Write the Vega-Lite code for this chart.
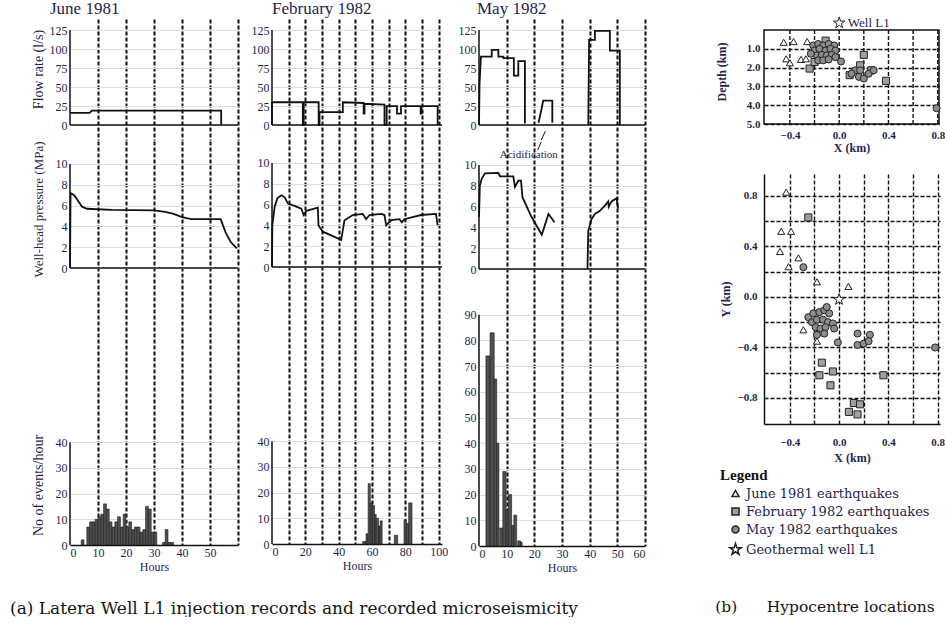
{
  "$schema": "https://vega.github.io/schema/vega-lite/v6.json",
  "background": "white",
  "padding": {"left": 10, "top": 0, "right": 0, "bottom": 0},
  "config": {
    "view": {"stroke": null},
    "font": "Liberation Serif",
    "axis": {"labelFont": "Liberation Serif", "labelFontSize": 12, "labelColor": "#1f1f4d", "titleFont": "Liberation Serif", "titleFontSize": 14, "titleFontWeight": "normal", "titleColor": "#1f1f4d", "ticks": false, "labelPadding": 3, "domainColor": "#111", "domainWidth": 1.5, "tickCount": 50},
    "title": {"font": "Liberation Serif", "fontWeight": "normal", "color": "#1f1f4d"}
  },
  "datasets": {
    "junFlow": [{"t":0,"v":16},{"t":7,"v":16},{"t":7.8,"v":19},{"t":54,"v":19},{"t":54,"v":0}],
    "junP": [{"t":0,"v":0},{"t":0.2,"v":7.2},{"t":1.5,"v":7.0},{"t":2.5,"v":6.6},{"t":4.3,"v":5.9},{"t":6.1,"v":5.7},{"t":15,"v":5.6},{"t":30,"v":5.55},{"t":34,"v":5.4},{"t":37,"v":5.2},{"t":40,"v":4.9},{"t":43.3,"v":4.7},{"t":53.8,"v":4.7},{"t":55.6,"v":3.4},{"t":57.4,"v":2.5},{"t":59.6,"v":1.9}],
    "junHist": [{"h0":4,"h1":5,"n":2},{"h0":6,"h1":7,"n":7},{"h0":7,"h1":8,"n":9},{"h0":8,"h1":9,"n":9},{"h0":9,"h1":10,"n":10},{"h0":10,"h1":11,"n":11},{"h0":11,"h1":12,"n":12},{"h0":12,"h1":13,"n":16},{"h0":13,"h1":14,"n":14},{"h0":14,"h1":15,"n":9},{"h0":15,"h1":16,"n":7},{"h0":16,"h1":17,"n":9},{"h0":17,"h1":18,"n":11},{"h0":18,"h1":19,"n":7},{"h0":19,"h1":20,"n":12},{"h0":20,"h1":21,"n":7},{"h0":21,"h1":22,"n":9},{"h0":22,"h1":23,"n":6},{"h0":23,"h1":24,"n":7},{"h0":24,"h1":25,"n":7},{"h0":25,"h1":26,"n":5},{"h0":26,"h1":27,"n":6},{"h0":27,"h1":28,"n":15},{"h0":28,"h1":29,"n":14},{"h0":29,"h1":30,"n":5},{"h0":30,"h1":31,"n":5},{"h0":33,"h1":34,"n":1},{"h0":34,"h1":35,"n":6},{"h0":35,"h1":36,"n":1},{"h0":36,"h1":37,"n":1}],
    "febFlow": [{"t":0,"v":0},{"t":0,"v":30},{"t":18.5,"v":30},{"t":18.5,"v":0},{"t":19,"v":0},{"t":19,"v":30},{"t":28,"v":30},{"t":28,"v":0},{"t":28.5,"v":0},{"t":28.5,"v":17},{"t":42.5,"v":17},{"t":42.5,"v":30},{"t":55,"v":29},{"t":55,"v":15},{"t":55.5,"v":15},{"t":55.5,"v":28},{"t":67.5,"v":27},{"t":67.5,"v":0},{"t":68.8,"v":0},{"t":68.8,"v":25},{"t":75,"v":25},{"t":75,"v":15},{"t":77.4,"v":15},{"t":77.4,"v":25},{"t":89.2,"v":25},{"t":89.2,"v":15},{"t":89.7,"v":15},{"t":89.7,"v":25},{"t":99.4,"v":25},{"t":99.4,"v":0}],
    "febP": [{"t":0,"v":0},{"t":0.2,"v":4},{"t":1.6,"v":5.8},{"t":3.2,"v":6.6},{"t":5.6,"v":6.9},{"t":7.6,"v":6.7},{"t":9.6,"v":6.1},{"t":14.6,"v":5.8},{"t":17.6,"v":5.6},{"t":19,"v":5.0},{"t":20.6,"v":5.4},{"t":27.5,"v":5.7},{"t":27.9,"v":4.0},{"t":30.5,"v":3.4},{"t":37.5,"v":2.9},{"t":41.5,"v":2.6},{"t":43.5,"v":4.5},{"t":48.5,"v":5.0},{"t":54.5,"v":5.1},{"t":56.5,"v":4.6},{"t":58.5,"v":5.0},{"t":65.5,"v":5.1},{"t":67.5,"v":5.0},{"t":68.5,"v":4.0},{"t":71.5,"v":4.5},{"t":76.5,"v":4.6},{"t":77.9,"v":4.3},{"t":79.4,"v":4.6},{"t":89.4,"v":5.0},{"t":98.4,"v":5.1},{"t":99.4,"v":4.0}],
    "febHist": [{"h0":54.4,"h1":56.4,"n":1},{"h0":56.4,"h1":57.7,"n":4},{"h0":57.7,"h1":59,"n":23.5},{"h0":59,"h1":60.2,"n":16},{"h0":60.2,"h1":61.5,"n":15},{"h0":61.5,"h1":62.5,"n":11.5},{"h0":62.5,"h1":63.9,"n":10},{"h0":63.9,"h1":64.9,"n":7},{"h0":64.9,"h1":66.1,"n":9},{"h0":73.4,"h1":75.4,"n":3.4},{"h0":79.2,"h1":80.6,"n":9.4},{"h0":80.6,"h1":82,"n":8},{"h0":82,"h1":84,"n":16}],
    "mayFlow": [{"t":0,"v":0,"seg":1},{"t":0.2,"v":55,"seg":1},{"t":0.7,"v":90,"seg":1},{"t":4.6,"v":90,"seg":1},{"t":4.6,"v":99,"seg":1},{"t":7,"v":99,"seg":1},{"t":7,"v":90,"seg":1},{"t":8.8,"v":90,"seg":1},{"t":8.8,"v":88,"seg":1},{"t":12.6,"v":88,"seg":1},{"t":12.6,"v":65,"seg":1},{"t":14.2,"v":65,"seg":1},{"t":14.2,"v":84,"seg":1},{"t":16.6,"v":84,"seg":1},{"t":16.6,"v":2,"seg":1},{"t":21.5,"v":3,"seg":2},{"t":22.3,"v":16,"seg":2},{"t":23.2,"v":32,"seg":2},{"t":26.5,"v":32,"seg":2},{"t":26.5,"v":3,"seg":2},{"t":39.5,"v":0,"seg":3},{"t":39.8,"v":112,"seg":3},{"t":41.9,"v":112,"seg":3},{"t":41.9,"v":124,"seg":3},{"t":47.3,"v":124,"seg":3},{"t":47.3,"v":98,"seg":3},{"t":50.9,"v":98,"seg":3},{"t":50.9,"v":0,"seg":3}],
    "mayP": [{"t":0,"v":5,"seg":1},{"t":0.3,"v":8,"seg":1},{"t":1,"v":8.7,"seg":1},{"t":2.2,"v":9.2,"seg":1},{"t":7,"v":9.25,"seg":1},{"t":7.6,"v":8.9,"seg":1},{"t":12.4,"v":8.9,"seg":1},{"t":13,"v":7.9,"seg":1},{"t":14.2,"v":8.5,"seg":1},{"t":15.2,"v":8.5,"seg":1},{"t":15.7,"v":6.9,"seg":1},{"t":19,"v":5.0,"seg":1},{"t":22.7,"v":3.3,"seg":1},{"t":25.1,"v":5.3,"seg":1},{"t":27.3,"v":4.5,"seg":1},{"t":39.2,"v":0,"seg":2},{"t":39.5,"v":3.7,"seg":2},{"t":40.7,"v":4.8,"seg":2},{"t":41.9,"v":5.3,"seg":2},{"t":43.7,"v":5.6,"seg":2},{"t":45.5,"v":6.1,"seg":2},{"t":46.7,"v":6.5,"seg":2},{"t":46.9,"v":6.0,"seg":2},{"t":47.9,"v":6.5,"seg":2},{"t":49.7,"v":6.8,"seg":2},{"t":50.3,"v":5.8,"seg":2}],
    "mayHist": [{"h0":2.5,"h1":4,"n":74},{"h0":4,"h1":5.5,"n":83},{"h0":5.5,"h1":6.4,"n":65},{"h0":6.4,"h1":7.2,"n":40},{"h0":7.5,"h1":8.6,"n":7},{"h0":8.6,"h1":9.8,"n":29},{"h0":9.8,"h1":10.6,"n":14},{"h0":10.6,"h1":11.8,"n":20},{"h0":11.8,"h1":12.6,"n":8},{"h0":12.6,"h1":13.6,"n":12},{"h0":14,"h1":15,"n":2},{"h0":15,"h1":15.6,"n":1.5}],
    "xz": [
      {"x":-0.45,"d":0.65,"set":"June 1981 earthquakes"},{"x":-0.37,"d":0.61,"set":"June 1981 earthquakes"},{"x":-0.26,"d":0.61,"set":"June 1981 earthquakes"},{"x":-0.43,"d":1.53,"set":"June 1981 earthquakes"},{"x":-0.40,"d":1.74,"set":"June 1981 earthquakes"},{"x":-0.31,"d":1.56,"set":"June 1981 earthquakes"},{"x":-0.27,"d":1.53,"set":"June 1981 earthquakes"},
      {"x":-0.11,"d":0.56,"set":"February 1982 earthquakes"},{"x":-0.24,"d":2.05,"set":"February 1982 earthquakes"},{"x":0.2,"d":1.32,"set":"February 1982 earthquakes"},{"x":0.17,"d":1.88,"set":"February 1982 earthquakes"},{"x":0.38,"d":2.7,"set":"February 1982 earthquakes"},{"x":0.085,"d":2.4,"set":"February 1982 earthquakes"},{"x":0.26,"d":2.14,"set":"February 1982 earthquakes"},{"x":-0.11,"d":1.53,"set":"February 1982 earthquakes"},{"x":-0.2,"d":1.7,"set":"February 1982 earthquakes"},
      {"x":-0.21,"d":0.82,"set":"May 1982 earthquakes"},{"x":-0.17,"d":0.74,"set":"May 1982 earthquakes"},{"x":-0.13,"d":0.82,"set":"May 1982 earthquakes"},{"x":-0.085,"d":0.74,"set":"May 1982 earthquakes"},{"x":-0.04,"d":0.82,"set":"May 1982 earthquakes"},{"x":-0.2,"d":1.09,"set":"May 1982 earthquakes"},{"x":-0.16,"d":1.0,"set":"May 1982 earthquakes"},{"x":-0.11,"d":1.09,"set":"May 1982 earthquakes"},{"x":-0.07,"d":1.0,"set":"May 1982 earthquakes"},{"x":-0.03,"d":1.09,"set":"May 1982 earthquakes"},{"x":-0.18,"d":1.35,"set":"May 1982 earthquakes"},{"x":-0.14,"d":1.32,"set":"May 1982 earthquakes"},{"x":-0.1,"d":1.35,"set":"May 1982 earthquakes"},{"x":-0.06,"d":1.32,"set":"May 1982 earthquakes"},{"x":-0.17,"d":1.61,"set":"May 1982 earthquakes"},{"x":-0.13,"d":1.61,"set":"May 1982 earthquakes"},{"x":-0.085,"d":1.56,"set":"May 1982 earthquakes"},{"x":-0.03,"d":1.44,"set":"May 1982 earthquakes"},{"x":-0.23,"d":1.26,"set":"May 1982 earthquakes"},{"x":0.015,"d":1.67,"set":"May 1982 earthquakes"},
      {"x":0.13,"d":2.14,"set":"May 1982 earthquakes"},{"x":0.16,"d":2.49,"set":"May 1982 earthquakes"},{"x":0.2,"d":2.58,"set":"May 1982 earthquakes"},{"x":0.24,"d":2.32,"set":"May 1982 earthquakes"},{"x":0.1,"d":2.32,"set":"May 1982 earthquakes"},{"x":0.28,"d":2.14,"set":"May 1982 earthquakes"},{"x":0.17,"d":2.14,"set":"May 1982 earthquakes"},{"x":0.79,"d":4.16,"set":"May 1982 earthquakes"},
      {"x":0.0,"d":-0.38,"set":"Geothermal well L1"}
    ],
    "xy": [
      {"x":-0.43,"y":0.83,"set":"June 1981 earthquakes"},{"x":-0.47,"y":0.52,"set":"June 1981 earthquakes"},{"x":-0.39,"y":0.52,"set":"June 1981 earthquakes"},{"x":-0.48,"y":0.36,"set":"June 1981 earthquakes"},{"x":-0.33,"y":0.31,"set":"June 1981 earthquakes"},{"x":-0.41,"y":0.24,"set":"June 1981 earthquakes"},{"x":-0.18,"y":0.12,"set":"June 1981 earthquakes"},{"x":0.076,"y":0.084,"set":"June 1981 earthquakes"},{"x":-0.29,"y":-0.26,"set":"June 1981 earthquakes"},{"x":-0.18,"y":-0.35,"set":"June 1981 earthquakes"},
      {"x":-0.25,"y":0.63,"set":"February 1982 earthquakes"},{"x":-0.14,"y":-0.52,"set":"February 1982 earthquakes"},{"x":-0.16,"y":-0.62,"set":"February 1982 earthquakes"},{"x":-0.05,"y":-0.59,"set":"February 1982 earthquakes"},{"x":-0.07,"y":-0.7,"set":"February 1982 earthquakes"},{"x":0.36,"y":-0.62,"set":"February 1982 earthquakes"},{"x":0.12,"y":-0.84,"set":"February 1982 earthquakes"},{"x":0.17,"y":-0.85,"set":"February 1982 earthquakes"},{"x":0.08,"y":-0.91,"set":"February 1982 earthquakes"},{"x":0.15,"y":-0.93,"set":"February 1982 earthquakes"},
      {"x":-0.29,"y":0.236,"set":"May 1982 earthquakes"},{"x":-0.25,"y":-0.16,"set":"May 1982 earthquakes"},{"x":-0.21,"y":-0.13,"set":"May 1982 earthquakes"},{"x":-0.16,"y":-0.12,"set":"May 1982 earthquakes"},{"x":-0.12,"y":-0.105,"set":"May 1982 earthquakes"},{"x":-0.08,"y":-0.13,"set":"May 1982 earthquakes"},{"x":-0.22,"y":-0.2,"set":"May 1982 earthquakes"},{"x":-0.18,"y":-0.18,"set":"May 1982 earthquakes"},{"x":-0.13,"y":-0.18,"set":"May 1982 earthquakes"},{"x":-0.09,"y":-0.2,"set":"May 1982 earthquakes"},{"x":-0.05,"y":-0.21,"set":"May 1982 earthquakes"},{"x":-0.19,"y":-0.24,"set":"May 1982 earthquakes"},{"x":-0.15,"y":-0.25,"set":"May 1982 earthquakes"},{"x":-0.11,"y":-0.24,"set":"May 1982 earthquakes"},{"x":-0.04,"y":-0.25,"set":"May 1982 earthquakes"},{"x":-0.18,"y":-0.3,"set":"May 1982 earthquakes"},{"x":-0.12,"y":-0.29,"set":"May 1982 earthquakes"},{"x":-0.1,"y":-0.08,"set":"May 1982 earthquakes"},{"x":-0.01,"y":-0.36,"set":"May 1982 earthquakes"},{"x":0.15,"y":-0.29,"set":"May 1982 earthquakes"},{"x":0.25,"y":-0.3,"set":"May 1982 earthquakes"},{"x":0.15,"y":-0.38,"set":"May 1982 earthquakes"},{"x":0.2,"y":-0.37,"set":"May 1982 earthquakes"},{"x":0.24,"y":-0.35,"set":"May 1982 earthquakes"},{"x":0.78,"y":-0.4,"set":"May 1982 earthquakes"},
      {"x":0.0,"y":-0.02,"set":"Geothermal well L1"}
    ],
    "vgrid": [{"gx":-0.4},{"gx":-0.2},{"gx":0},{"gx":0.2},{"gx":0.4},{"gx":0.6},{"gx":0.8}]
  },
  "spacing": 69,
  "hconcat": [
    {
      "spacing": 10,
      "title": {"text": "(a) Latera Well L1 injection records and recorded microseismicity", "orient": "bottom", "anchor": "start", "font": "DejaVu Serif", "fontSize": 17, "offset": 28, "dx": -21, "color": "#151515"},
      "hconcat": [
        {
          "spacing": 0,
          "vconcat": [
            {
              "title": {"text": "June 1981", "anchor": "start", "dx": 19, "fontSize": 17, "offset": 1},
              "width": 168, "height": 121,
              "layer": [
                {"data": {"name": "junFlow"}, "mark": {"type": "line", "color": "#111", "strokeWidth": 1.8},
                 "encoding": {
                   "x": {"field": "t", "type": "quantitative", "scale": {"domain": [0, 60], "nice": false, "zero": false}, "axis": {"title": null, "labels": false, "domain": false, "grid": true, "values": [10,20,30,40,50,60], "gridColor": "#111", "gridDash": [4,2], "gridWidth": 2}},
                   "y": {"field": "v", "type": "quantitative", "scale": {"domain": [-19.7, 139.5], "nice": false, "zero": false}, "axis": {"values": [0,25,50,75,100,125], "format": "d", "domain": false, "title": "Flow rate (l/s)", "titleY": 50, "minExtent": 21, "maxExtent": 21}}
                 }},
                {"data": {"values": [{}]}, "mark": {"type": "rule", "color": "#111", "strokeWidth": 1.5}, "encoding": {"x": {"datum": 0}, "x2": {"datum": 60}, "y": {"datum": 0}}},
                {"data": {"values": [{}]}, "mark": {"type": "rule", "color": "#111", "strokeWidth": 1.5}, "encoding": {"x": {"datum": 0}, "y": {"datum": 0}, "y2": {"datum": 125}}}
              ]
            },
            {
              "width": 168, "height": 144,
              "layer": [
                {"data": {"name": "junP"}, "mark": {"type": "line", "color": "#111", "strokeWidth": 1.8},
                 "encoding": {
                   "x": {"field": "t", "type": "quantitative", "scale": {"domain": [0, 60], "nice": false, "zero": false}, "axis": {"title": null, "labels": false, "domain": false, "grid": true, "values": [10,20,30,40,50,60], "gridColor": "#111", "gridDash": [4,2], "gridWidth": 2}},
                   "y": {"field": "v", "type": "quantitative", "scale": {"domain": [-1.63, 12.21], "nice": false, "zero": false}, "axis": {"values": [0,2,4,6,8,10], "format": "d", "domain": false, "title": "Well-head pressure (MPa)", "titleFontSize": 13, "titleY": 68, "minExtent": 21, "maxExtent": 21}}
                 }},
                {"data": {"values": [{}]}, "mark": {"type": "rule", "color": "#111", "strokeWidth": 1.5}, "encoding": {"x": {"datum": 0}, "x2": {"datum": 60}, "y": {"datum": 0}}},
                {"data": {"values": [{}]}, "mark": {"type": "rule", "color": "#111", "strokeWidth": 1.5}, "encoding": {"x": {"datum": 0}, "y": {"datum": 0}, "y2": {"datum": 10}}}
              ]
            },
            {
              "width": 168, "height": 260,
              "layer": [
                {"data": {"name": "junHist"}, "mark": {"type": "rect", "fill": "#505050", "stroke": "#1a1a1a", "strokeWidth": 0.6},
                 "encoding": {
                   "x": {"field": "h0", "type": "quantitative", "scale": {"domain": [0, 60], "nice": false, "zero": false}, "axis": {"title": "Hours", "titleFontSize": 12, "titlePadding": 3, "labelPadding": 2, "values": [0,10,20,30,40,50,60], "format": "d", "labelExpr": "datum.value == 60 ? '' : datum.label", "grid": true, "gridColor": "#111", "gridDash": [4,2], "gridWidth": 2, "gridOpacity": {"condition": {"test": "datum.value == 0", "value": 0}, "value": 1}}},
                   "x2": {"field": "h1"},
                   "y": {"field": "n", "type": "quantitative", "scale": {"domain": [0, 101.2], "nice": false}, "axis": {"values": [0,10,20,30,40], "format": "d", "domain": false, "title": "No of events/hour", "titleY": 200, "minExtent": 21, "maxExtent": 21}},
                   "y2": {"datum": 0}
                 }},
                {"data": {"values": [{}]}, "mark": {"type": "rule", "color": "#111", "strokeWidth": 1.5}, "encoding": {"x": {"datum": 0}, "y": {"datum": 0}, "y2": {"datum": 40}}}
              ]
            }
          ]
        },
        {
          "spacing": 0,
          "vconcat": [
            {
              "title": {"text": "February 1982", "anchor": "start", "dx": 21, "fontSize": 17, "offset": 1},
              "width": 170, "height": 121,
              "layer": [
                {"data": {"name": "febFlow"}, "mark": {"type": "line", "color": "#111", "strokeWidth": 1.8},
                 "encoding": {
                   "x": {"field": "t", "type": "quantitative", "scale": {"domain": [0, 102], "nice": false, "zero": false}, "axis": {"title": null, "labels": false, "domain": false, "grid": true, "values": [10,20,30,40,50,60,70,80,90,100], "gridColor": "#111", "gridDash": [4,2], "gridWidth": 2}},
                   "y": {"field": "v", "type": "quantitative", "scale": {"domain": [-19.7, 139.5], "nice": false, "zero": false}, "axis": {"values": [0,25,50,75,100,125], "format": "d", "domain": false, "title": null}}
                 }},
                {"data": {"values": [{}]}, "mark": {"type": "rule", "color": "#111", "strokeWidth": 1.5}, "encoding": {"x": {"datum": 0}, "x2": {"datum": 102}, "y": {"datum": 0}}},
                {"data": {"values": [{}]}, "mark": {"type": "rule", "color": "#111", "strokeWidth": 1.5}, "encoding": {"x": {"datum": 0}, "y": {"datum": 0}, "y2": {"datum": 125}}}
              ]
            },
            {
              "width": 170, "height": 144,
              "layer": [
                {"data": {"name": "febP"}, "mark": {"type": "line", "color": "#111", "strokeWidth": 1.8},
                 "encoding": {
                   "x": {"field": "t", "type": "quantitative", "scale": {"domain": [0, 102], "nice": false, "zero": false}, "axis": {"title": null, "labels": false, "domain": false, "grid": true, "values": [10,20,30,40,50,60,70,80,90,100], "gridColor": "#111", "gridDash": [4,2], "gridWidth": 2}},
                   "y": {"field": "v", "type": "quantitative", "scale": {"domain": [-1.63, 12.21], "nice": false, "zero": false}, "axis": {"values": [0,2,4,6,8,10], "format": "d", "domain": false, "title": null}}
                 }},
                {"data": {"values": [{}]}, "mark": {"type": "rule", "color": "#111", "strokeWidth": 1.5}, "encoding": {"x": {"datum": 0}, "x2": {"datum": 102}, "y": {"datum": 0}}},
                {"data": {"values": [{}]}, "mark": {"type": "rule", "color": "#111", "strokeWidth": 1.5}, "encoding": {"x": {"datum": 0}, "y": {"datum": 0}, "y2": {"datum": 10}}}
              ]
            },
            {
              "width": 170, "height": 260,
              "layer": [
                {"data": {"name": "febHist"}, "mark": {"type": "rect", "fill": "#505050", "stroke": "#1a1a1a", "strokeWidth": 0.6},
                 "encoding": {
                   "x": {"field": "h0", "type": "quantitative", "scale": {"domain": [0, 102], "nice": false, "zero": false}, "axis": {"title": "Hours", "titleFontSize": 12, "titlePadding": 3, "labelPadding": 2, "values": [0,10,20,30,40,50,60,70,80,90,100], "format": "d", "labelExpr": "datum.value % 20 == 0 ? datum.label : ''", "grid": true, "gridColor": "#111", "gridDash": [4,2], "gridWidth": 2, "gridOpacity": {"condition": {"test": "datum.value == 0", "value": 0}, "value": 1}}},
                   "x2": {"field": "h1"},
                   "y": {"field": "n", "type": "quantitative", "scale": {"domain": [0, 101.2], "nice": false}, "axis": {"values": [0,10,20,30,40], "format": "d", "domain": false, "title": null}},
                   "y2": {"datum": 0}
                 }},
                {"data": {"values": [{}]}, "mark": {"type": "rule", "color": "#111", "strokeWidth": 1.5}, "encoding": {"x": {"datum": 0}, "y": {"datum": 0}, "y2": {"datum": 40}}}
              ]
            }
          ]
        },
        {
          "spacing": 0,
          "vconcat": [
            {
              "title": {"text": "May 1982", "anchor": "start", "dx": 19, "fontSize": 17, "offset": 1},
              "width": 166, "height": 121,
              "layer": [
                {"data": {"name": "mayFlow"}, "mark": {"type": "line", "color": "#111", "strokeWidth": 1.8},
                 "encoding": {
                   "x": {"field": "t", "type": "quantitative", "scale": {"domain": [0, 60], "nice": false, "zero": false}, "axis": {"title": null, "labels": false, "domain": false, "grid": true, "values": [10,20,30,40,50,60], "gridColor": "#111", "gridDash": [4,2], "gridWidth": 2}},
                   "y": {"field": "v", "type": "quantitative", "scale": {"domain": [-19.7, 139.5], "nice": false, "zero": false}, "axis": {"values": [0,25,50,75,100,125], "format": "d", "domain": false, "title": null}},
                   "detail": {"field": "seg"}
                 }},
                {"data": {"values": [{}]}, "mark": {"type": "rule", "color": "#111", "strokeWidth": 1.5}, "encoding": {"x": {"datum": 0}, "x2": {"datum": 60}, "y": {"datum": 0}}},
                {"data": {"values": [{}]}, "mark": {"type": "rule", "color": "#111", "strokeWidth": 1.5}, "encoding": {"x": {"datum": 0}, "y": {"datum": 0}, "y2": {"datum": 125}}},
                {"data": {"values": [{"t": 22.5, "v": -19.7, "t2": 24, "v2": -7.9}]}, "mark": {"type": "rule", "color": "#111", "strokeWidth": 1}, "encoding": {"x": {"field": "t", "type": "quantitative"}, "y": {"field": "v", "type": "quantitative"}, "x2": {"field": "t2"}, "y2": {"field": "v2"}}}
              ]
            },
            {
              "width": 166, "height": 144,
              "layer": [
                {"data": {"name": "mayP"}, "mark": {"type": "line", "color": "#111", "strokeWidth": 1.8},
                 "encoding": {
                   "x": {"field": "t", "type": "quantitative", "scale": {"domain": [0, 60], "nice": false, "zero": false}, "axis": {"title": null, "labels": false, "domain": false, "grid": true, "values": [10,20,30,40,50,60], "gridColor": "#111", "gridDash": [4,2], "gridWidth": 2}},
                   "y": {"field": "v", "type": "quantitative", "scale": {"domain": [-1.63, 12.21], "nice": false, "zero": false}, "axis": {"values": [0,2,4,6,8,10], "format": "d", "domain": false, "title": null}},
                   "detail": {"field": "seg"}
                 }},
                {"data": {"values": [{}]}, "mark": {"type": "rule", "color": "#111", "strokeWidth": 1.5}, "encoding": {"x": {"datum": 0}, "x2": {"datum": 60}, "y": {"datum": 0}}},
                {"data": {"values": [{}]}, "mark": {"type": "rule", "color": "#111", "strokeWidth": 1.5}, "encoding": {"x": {"datum": 0}, "y": {"datum": 0}, "y2": {"datum": 10}}},
                {"data": {"values": [{"t": 21.2, "v": 11.44, "t2": 22.5, "v2": 12.21}]}, "mark": {"type": "rule", "color": "#111", "strokeWidth": 1}, "encoding": {"x": {"field": "t", "type": "quantitative"}, "y": {"field": "v", "type": "quantitative"}, "x2": {"field": "t2"}, "y2": {"field": "v2"}}},
                {"data": {"values": [{"t": 18, "v": 10.95, "label": "Acidification"}]}, "mark": {"type": "text", "fontSize": 11, "color": "#1f1f4d", "font": "Liberation Serif"}, "encoding": {"x": {"field": "t", "type": "quantitative"}, "y": {"field": "v", "type": "quantitative"}, "text": {"field": "label"}}}
              ]
            },
            {
              "width": 166, "height": 260,
              "layer": [
                {"data": {"name": "mayHist"}, "mark": {"type": "rect", "fill": "#505050", "stroke": "#1a1a1a", "strokeWidth": 0.6},
                 "encoding": {
                   "x": {"field": "h0", "type": "quantitative", "scale": {"domain": [0, 60], "nice": false, "zero": false}, "axis": {"title": "Hours", "titleFontSize": 12, "titlePadding": 3, "labelPadding": 2, "values": [0,10,20,30,40,50,60], "format": "d", "grid": true, "gridColor": "#111", "gridDash": [4,2], "gridWidth": 2, "gridOpacity": {"condition": {"test": "datum.value == 0", "value": 0}, "value": 1}}},
                   "x2": {"field": "h1"},
                   "y": {"field": "n", "type": "quantitative", "scale": {"domain": [0, 101.2], "nice": false}, "axis": {"values": [0,10,20,30,40,50,60,70,80,90], "format": "d", "domain": false, "title": null}},
                   "y2": {"datum": 0}
                 }},
                {"data": {"values": [{}]}, "mark": {"type": "rule", "color": "#111", "strokeWidth": 1.5}, "encoding": {"x": {"datum": 0}, "y": {"datum": 0}, "y2": {"datum": 90}}}
              ]
            }
          ]
        }
      ]
    },
    {
      "spacing": 21,
      "title": {"text": "(b)\u00a0\u00a0\u00a0\u00a0\u00a0\u00a0Hypocentre locations", "orient": "bottom", "anchor": "start", "font": "DejaVu Serif", "fontSize": 15.5, "offset": 42, "color": "#151515"},
      "resolve": {"legend": {"shape": "independent", "fill": "independent"}},
      "vconcat": [
        {
          "width": 175, "height": 105,
          "layer": [
            {"data": {"values": [{}]}, "mark": {"type": "rect", "fill": null, "stroke": "#111", "strokeWidth": 1.5},
             "encoding": {"x": {"datum": -0.61}, "x2": {"datum": 0.81}, "y": {"datum": 0}, "y2": {"datum": 5}}},
            {"data": {"name": "vgrid"}, "mark": {"type": "rule", "color": "#111", "strokeDash": [4,2], "strokeWidth": 1.4},
             "encoding": {"x": {"field": "gx", "type": "quantitative"}, "y": {"datum": 0}, "y2": {"datum": 5}}},
            {"data": {"name": "xz"}, "mark": {"type": "point", "filled": true, "stroke": "#222", "strokeWidth": 1, "opacity": 1, "size": 50},
             "encoding": {
               "x": {"field": "x", "type": "quantitative", "scale": {"domain": [-0.61, 0.81], "nice": false, "zero": false}, "axis": {"values": [-0.4, 0, 0.4, 0.8], "format": ".1f", "title": "X (km)", "titleFontSize": 12, "domain": false, "labelFontSize": 11, "labelFontWeight": "bold", "titleFontWeight": "bold", "labelPadding": 5, "titlePadding": 2}},
               "y": {"field": "d", "type": "quantitative", "scale": {"domain": [-0.59, 5], "nice": false, "zero": false, "reverse": true}, "axis": {"values": [1, 2, 3, 4, 5], "format": ".1f", "title": "Depth (km)", "titleFontSize": 12, "domain": false, "grid": true, "gridColor": "#111", "gridDash": [4,2], "gridWidth": 1.4, "labelFontSize": 11, "labelFontWeight": "bold", "titleFontWeight": "bold", "labelPadding": 4, "titlePadding": 18}},
               "shape": {"field": "set", "type": "nominal", "scale": {"domain": ["June 1981 earthquakes", "February 1982 earthquakes", "May 1982 earthquakes", "Geothermal well L1"], "range": ["triangle-up", "square", "circle", "M0,-1.7L0.382,-0.526L1.617,-0.525L0.618,0.201L0.999,1.375L0,0.65L-0.999,1.375L-0.618,0.201L-1.617,-0.525L-0.382,-0.526Z"]}, "legend": null},
               "fill": {"field": "set", "type": "nominal", "scale": {"domain": ["June 1981 earthquakes", "February 1982 earthquakes", "May 1982 earthquakes", "Geothermal well L1"], "range": ["#ffffff", "#a0a0a0", "#8c8c8c", "#ffffff"]}, "legend": null}
             }},
            {"data": {"values": [{"x": 0.07, "d": -0.4, "label": "Well L1"}]}, "mark": {"type": "text", "align": "left", "baseline": "middle", "fontSize": 13, "color": "#1f1f4d", "font": "Liberation Serif"},
             "encoding": {"x": {"field": "x", "type": "quantitative"}, "y": {"field": "d", "type": "quantitative"}, "text": {"field": "label"}}}
          ]
        },
        {
          "width": 176, "height": 250,
          "layer": [
            {"data": {"name": "xy"}, "mark": {"type": "point", "filled": true, "stroke": "#222", "strokeWidth": 1, "opacity": 1, "size": 50},
             "encoding": {
               "x": {"field": "x", "type": "quantitative", "scale": {"domain": [-0.61, 0.82], "nice": false, "zero": false}, "axis": {"values": [-0.4, -0.2, 0, 0.2, 0.4, 0.6, 0.8], "labelExpr": "abs(round(datum.value*10)) % 4 == 0 ? format(datum.value, '.1f') : ''", "title": "X (km)", "titleFontSize": 12, "grid": true, "gridColor": "#111", "gridDash": [4,2], "gridWidth": 1.4, "labelFontSize": 11, "labelFontWeight": "bold", "titleFontWeight": "bold", "labelPadding": 12, "titlePadding": 5}},
               "y": {"field": "y", "type": "quantitative", "scale": {"domain": [-1.006, 0.974], "nice": false, "zero": false}, "axis": {"values": [-0.8, -0.6, -0.4, -0.2, 0, 0.2, 0.4, 0.6, 0.8], "labelExpr": "abs(round(datum.value*10)) % 4 == 0 ? format(datum.value, '.1f') : ''", "title": "Y (km)", "titleFontSize": 12, "grid": true, "gridColor": "#111", "gridDash": [4,2], "gridWidth": 1.4, "labelFontSize": 11, "labelFontWeight": "bold", "titleFontWeight": "bold", "labelPadding": 7, "titlePadding": 4}},
               "shape": {"field": "set", "type": "nominal", "scale": {"domain": ["June 1981 earthquakes", "February 1982 earthquakes", "May 1982 earthquakes", "Geothermal well L1"], "range": ["triangle-up", "square", "circle", "M0,-1.7L0.382,-0.526L1.617,-0.525L0.618,0.201L0.999,1.375L0,0.65L-0.999,1.375L-0.618,0.201L-1.617,-0.525L-0.382,-0.526Z"]},
                 "legend": {"title": "Legend", "orient": "none", "legendX": -44, "legendY": 294, "titleFont": "Liberation Serif", "titleFontSize": 15, "titleFontWeight": "bold", "titleColor": "#111", "labelFont": "DejaVu Serif", "labelFontSize": 13, "labelLimit": 400, "labelColor": "#1f1f4d", "symbolSize": 50, "symbolOffset": 9, "rowPadding": 3, "titlePadding": 4, "padding": 0, "offset": 0}},
               "fill": {"field": "set", "type": "nominal", "scale": {"domain": ["June 1981 earthquakes", "February 1982 earthquakes", "May 1982 earthquakes", "Geothermal well L1"], "range": ["#ffffff", "#a0a0a0", "#8c8c8c", "#ffffff"]},
                 "legend": {"title": "Legend", "orient": "none", "legendX": -44, "legendY": 294, "titleFont": "Liberation Serif", "titleFontSize": 15, "titleFontWeight": "bold", "titleColor": "#111", "labelFont": "DejaVu Serif", "labelFontSize": 13, "labelLimit": 400, "labelColor": "#1f1f4d", "symbolSize": 50, "symbolOffset": 9, "rowPadding": 3, "titlePadding": 4, "padding": 0, "offset": 0}}
             }}
          ]
        }
      ]
    }
  ]
}
